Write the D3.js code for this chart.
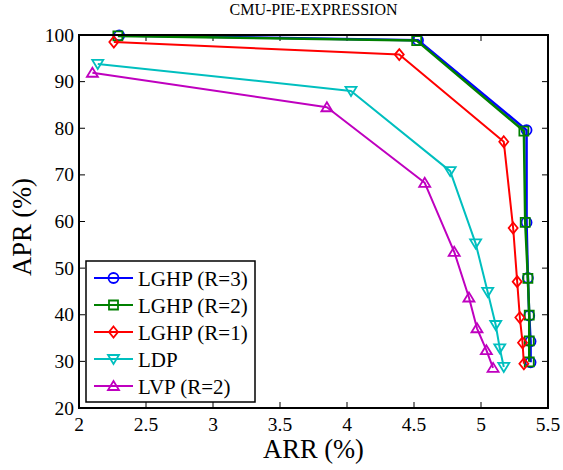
<!DOCTYPE html>
<html><head><meta charset="utf-8">
<script src="https://cdn.jsdelivr.net/npm/d3@7"></script>
<style>body{margin:0;background:#fff}svg{display:block}</style>
</head><body>
<script>
const title = "CMU-PIE-EXPRESSION";
const xLabel = "ARR (%)";
const yLabel = "APR (%)";
const xTicks = [2, 2.5, 3, 3.5, 4, 4.5, 5, 5.5];
const yTicks = [20, 30, 40, 50, 60, 70, 80, 90, 100];
const seriesNames = ["LGHP (R=3)", "LGHP (R=2)", "LGHP (R=1)", "LDP", "LVP (R=2)"];
const seriesColors = ["#0000ff", "#008000", "#ff0000", "#00bfbf", "#bf00bf"];
const seriesMarkers = ["circle", "square", "diamond", "triDown", "triUp"];
const lghp3X = [2.30, 4.53, 5.34, 5.34, 5.35, 5.36, 5.37, 5.37];
const lghp3Y = [99.9, 98.9, 79.6, 59.8, 47.9, 39.8, 34.3, 29.8];
const lghp2X = [2.29, 4.52, 5.32, 5.33, 5.35, 5.36, 5.36, 5.36];
const lghp2Y = [99.8, 98.8, 79.4, 59.8, 47.8, 39.9, 34.4, 29.9];
const lghp1X = [2.26, 4.39, 5.17, 5.24, 5.27, 5.29, 5.31, 5.32];
const lghp1Y = [98.5, 95.8, 77.1, 58.6, 47.1, 39.4, 34.0, 29.5];
const ldpX = [2.14, 4.03, 4.77, 4.96, 5.05, 5.11, 5.14, 5.17];
const ldpY = [93.8, 88.0, 70.8, 55.3, 44.9, 37.8, 32.8, 28.8];
const lvpX = [2.10, 3.85, 4.58, 4.80, 4.91, 4.97, 5.04, 5.09];
const lvpY = [91.9, 84.5, 68.3, 53.5, 43.7, 37.1, 32.4, 28.6];
const seriesX = [lghp3X, lghp2X, lghp1X, ldpX, lvpX];
const seriesY = [lghp3Y, lghp2Y, lghp1Y, ldpY, lvpY];

const FONT = "'Liberation Serif', 'Times New Roman', Tinos, 'DejaVu Serif', serif";
const W = 563, H = 470;
const L = 79, R = 548, T = 35, B = 408;
const svg = d3.select("body").append("svg").attr("width", W).attr("height", H)
  .attr("font-family", FONT).style("font-family", FONT);
const x = d3.scaleLinear().domain([2, 5.5]).range([L, R]);
const y = d3.scaleLinear().domain([20, 100]).range([B, T]);

function markerPath(type) {
  switch (type) {
    case "circle": return d3.symbol().type(d3.symbolCircle).size(Math.PI * 25)();
    case "square": return "M-4.5,-4.5H4.5V4.5H-4.5Z";
    case "diamond": return "M0,-5.5L4.5,0L0,5.5L-4.5,0Z";
    case "triDown": return "M-5.5,-4L5.5,-4L0,5Z";
    case "triUp": return "M-5.5,4L5.5,4L0,-5Z";
  }
}
function txt(sel) { return sel.append("text").style("font-family", FONT).attr("fill", "#000"); }

// ticks inside on all sides
const g = svg.append("g");
const tl = 6;
xTicks.forEach(t => {
  g.append("line").attr("x1", x(t)).attr("x2", x(t)).attr("y1", B).attr("y2", B - tl).attr("stroke", "#000").attr("stroke-width", 1);
  g.append("line").attr("x1", x(t)).attr("x2", x(t)).attr("y1", T).attr("y2", T + tl).attr("stroke", "#000").attr("stroke-width", 1);
  txt(g).attr("x", x(t)).attr("y", 431).attr("text-anchor", "middle").attr("font-size", 19.5).text(d3.format("")(t));
});
yTicks.forEach(t => {
  g.append("line").attr("x1", L).attr("x2", L + tl).attr("y1", y(t)).attr("y2", y(t)).attr("stroke", "#000").attr("stroke-width", 1);
  g.append("line").attr("x1", R).attr("x2", R - tl).attr("y1", y(t)).attr("y2", y(t)).attr("stroke", "#000").attr("stroke-width", 1);
  txt(g).attr("x", 74).attr("y", y(t) + 6.5).attr("text-anchor", "end").attr("font-size", 19.5).text(t);
});

// series
const line = d3.line().x(d => x(d[0])).y(d => y(d[1]));
seriesNames.forEach((name, i) => {
  const pts = seriesX[i].map((v, j) => [v, seriesY[i][j]]);
  const sg = svg.append("g");
  sg.append("path").attr("d", line(pts)).attr("fill", "none").attr("stroke", seriesColors[i]).attr("stroke-width", i < 2 ? 2.5 : 2).attr("stroke-linejoin", "round");
  sg.selectAll("path.m").data(pts).enter().append("path").attr("class", "m")
    .attr("d", markerPath(seriesMarkers[i]))
    .attr("transform", d => `translate(${x(d[0])},${y(d[1])})`)
    .attr("fill", "none").attr("stroke", seriesColors[i]).attr("stroke-width", 1.8);
});

// box
svg.append("rect").attr("x", L).attr("y", T).attr("width", R - L).attr("height", B - T)
  .attr("fill", "none").attr("stroke", "#000").attr("stroke-width", 2);

// title & labels
txt(svg).attr("x", (L + R) / 2).attr("y", 15).attr("text-anchor", "middle").attr("font-size", 16).text(title);
txt(svg).attr("x", (L + R) / 2).attr("y", 458).attr("text-anchor", "middle").attr("font-size", 26.5).text(xLabel);
txt(svg).attr("transform", "translate(31,227) rotate(-90)").attr("text-anchor", "middle").attr("font-size", 26.5).text(yLabel);

// legend
const lg = svg.append("g");
lg.append("rect").attr("x", 86).attr("y", 261).attr("width", 169).attr("height", 141)
  .attr("fill", "#fff").attr("stroke", "#000").attr("stroke-width", 1.5);
seriesNames.forEach((name, i) => {
  const cy = 278 + i * 27;
  lg.append("line").attr("x1", 94).attr("x2", 133).attr("y1", cy).attr("y2", cy).attr("stroke", seriesColors[i]).attr("stroke-width", 2);
  lg.append("path").attr("d", markerPath(seriesMarkers[i])).attr("transform", `translate(113.5,${cy})`)
    .attr("fill", "none").attr("stroke", seriesColors[i]).attr("stroke-width", 1.8);
  txt(lg).attr("x", 138).attr("y", cy + 7.5).attr("font-size", 21).text(name);
});
</script>
</body></html>
